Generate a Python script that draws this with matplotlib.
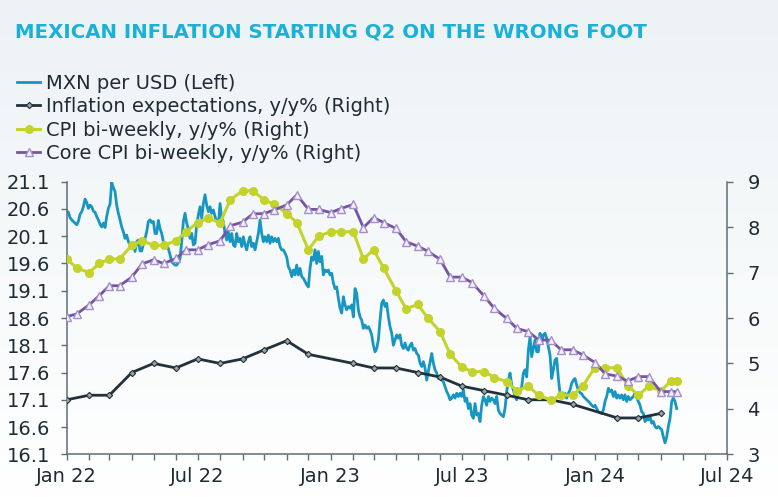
import numpy as np
import pandas as pd
import matplotlib
matplotlib.use('Agg')
import matplotlib.pyplot as plt
import matplotlib.dates as mdates
from matplotlib.colors import LinearSegmentedColormap

# ---- data ----
title = 'MEXICAN INFLATION STARTING Q2 ON THE WRONG FOOT'

# MXN per USD, sampled roughly every 2.3 days from Jan 2022
mxn_start = '2022-01-01'
mxn_step_days = 2.303
mxn = [
    20.56, 20.54, 20.44, 20.40, 20.37, 20.34, 20.31, 20.37, 20.50, 20.55,
    20.64, 20.78, 20.72, 20.61, 20.67, 20.64, 20.56, 20.54, 20.46, 20.40,
    20.32, 20.27, 20.34, 20.26, 20.46, 20.61, 20.69, 21.09, 20.99, 20.92,
    20.67, 20.52, 20.40, 20.27, 20.18, 20.06, 20.12, 20.00, 19.94, 19.87,
    19.97, 19.82, 20.00, 20.03, 19.83, 19.83, 19.95, 20.06, 20.18, 20.37,
    20.40, 20.35, 20.37, 20.15, 20.15, 20.39, 20.24, 20.15, 20.00, 19.95,
    19.97, 19.87, 19.76, 19.63, 19.60, 19.57, 19.57, 19.62, 19.69, 20.00,
    20.37, 20.52, 20.34, 20.23,
    20.06, 20.15, 19.94, 19.97, 20.31, 20.49, 20.64, 20.43, 20.70, 20.86,
    20.67, 20.55, 20.64, 20.52, 20.58, 20.46, 20.37, 20.31, 20.70, 20.43,
    20.37, 20.15, 20.03, 20.18, 20.00, 20.15, 19.94, 19.91, 20.15, 20.00,
    20.06, 19.91, 20.09, 19.94, 19.85, 20.00, 20.09, 19.91, 19.97, 19.85,
    20.00, 20.15, 20.40, 20.15, 20.00, 20.09, 20.00, 20.12, 19.97, 20.09,
    20.00, 20.06, 20.00, 20.06, 19.91, 19.85, 19.85, 19.79, 19.72, 19.54,
    19.48, 19.36, 19.48, 19.39, 19.57, 19.39, 19.51, 19.36, 19.33, 19.27,
    19.21, 19.17, 19.51, 19.72, 19.66, 19.85, 19.60, 19.82, 19.63,
    19.73, 19.39, 19.48, 19.45, 19.48, 19.39, 19.42, 19.24, 19.14, 19.17,
    18.96, 18.78, 18.69, 18.99, 18.84, 18.75, 18.81, 18.78, 18.84, 18.62,
    19.14, 19.05, 18.75, 18.62, 18.56, 18.41, 18.47, 18.41, 18.44, 18.38,
    18.29, 18.10, 17.98, 18.04, 18.20, 18.56, 18.87, 18.93, 18.81, 18.87,
    18.62, 18.44, 18.32, 18.10, 18.20, 18.29, 18.23, 18.29, 18.10, 18.04,
    18.14, 18.04, 18.01, 18.10, 18.14, 18.01, 18.04, 17.95, 17.92, 17.77,
    17.71, 17.80, 17.68, 17.46, 17.62, 17.77, 17.95, 17.77, 17.65, 17.59,
    17.49, 17.52, 17.46, 17.43, 17.34, 17.25, 17.19, 17.10,
    17.13, 17.19, 17.13, 17.22, 17.16, 17.22, 17.16, 17.28, 17.07, 17.13,
    16.94, 17.03, 16.82, 16.76, 17.03, 16.82, 16.85, 16.70, 17.00, 17.16,
    17.10, 17.00, 17.16, 17.07, 17.13, 17.10, 17.03, 17.16, 16.91, 16.85,
    16.82, 16.79, 16.94, 17.25, 17.46, 17.59, 17.37, 17.28, 17.16, 17.10,
    17.28, 17.22, 17.34, 17.59, 17.65, 17.52, 18.01, 18.26, 17.89, 18.04,
    18.20, 17.98, 17.98, 18.32, 18.14, 18.29, 18.32, 18.23, 18.07, 17.92,
    17.49, 17.65, 17.83, 17.86, 17.49, 17.22, 17.19, 17.16, 17.22, 17.13,
    17.22, 17.28, 17.40, 17.46, 17.49,
    17.37, 17.28, 17.23, 17.21, 17.16, 17.13, 17.10, 17.07, 17.04, 17.00,
    16.97, 17.00, 16.94, 16.88, 16.86, 16.85, 16.91, 17.07, 17.16, 17.31,
    17.25, 17.28, 17.16, 17.25, 17.13, 17.19, 17.13, 17.19, 17.10, 17.19,
    17.07, 17.16, 17.10, 17.13, 17.16, 17.22, 17.13, 17.07, 17.00, 16.88,
    16.85, 16.70, 16.76, 16.73, 16.79, 16.67, 16.70, 16.61, 16.58, 16.61,
    16.58, 16.55, 16.42, 16.31, 16.42, 16.61, 16.76, 17.07, 17.13, 17.07,
    16.94,
]

# inflation expectations, monthly (no January prints shown for 2023 / 2024)
infl_dates = ['2022-01-01', '2022-02-01', '2022-03-01', '2022-04-01', '2022-05-01', '2022-06-01',
              '2022-07-01', '2022-08-01', '2022-09-01', '2022-10-01', '2022-11-01', '2022-12-01',
              '2023-02-01', '2023-03-01', '2023-04-01', '2023-05-01', '2023-06-01', '2023-07-01',
              '2023-08-01', '2023-09-01', '2023-10-01', '2023-11-01', '2023-12-01',
              '2024-02-01', '2024-03-01', '2024-04-01']
infl_exp = [4.2, 4.3, 4.3, 4.8, 5.0, 4.9, 5.1, 5.0, 5.1, 5.3, 5.5, 5.2,
            5.0, 4.9, 4.9, 4.8, 4.7, 4.5, 4.4, 4.3, 4.2, 4.2, 4.1,
            3.8, 3.8, 3.9]

# bi-weekly CPI (1st / 15th of month) plus a late-April print
cpi_last_date = '2024-04-23'
cpi = [7.3, 7.1, 7.0, 7.2, 7.3, 7.3, 7.6, 7.7, 7.6, 7.6,
       7.7, 7.9, 8.1, 8.2, 8.1, 8.6, 8.8, 8.8, 8.6, 8.5,
       8.3, 8.1, 7.5, 7.8, 7.9, 7.9, 7.9, 7.3, 7.5, 7.1,
       6.6, 6.2, 6.3, 6.0, 5.7, 5.2, 4.92, 4.82, 4.82, 4.69,
       4.6, 4.4, 4.5, 4.3, 4.19, 4.3, 4.3, 4.5, 4.91, 4.91,
       4.9, 4.51, 4.3, 4.5, 4.4, 4.61, 4.61]
core_cpi = [6.03, 6.09, 6.29, 6.49, 6.71, 6.71, 6.90, 7.19, 7.28, 7.20,
            7.31, 7.50, 7.50, 7.61, 7.70, 8.03, 8.11, 8.29, 8.30, 8.38,
            8.49, 8.71, 8.39, 8.39, 8.32, 8.41, 8.50, 7.99, 8.21, 8.10,
            7.97, 7.68, 7.58, 7.47, 7.29, 6.90, 6.90, 6.78, 6.48, 6.21,
            5.99, 5.77, 5.70, 5.52, 5.51, 5.30, 5.30, 5.19, 5.02, 4.77,
            4.72, 4.61, 4.71, 4.71, 4.38, 4.38, 4.38]

left_ticks = [16.1, 16.6, 17.1, 17.6, 18.1, 18.6, 19.1, 19.6, 20.1, 20.6, 21.1]
right_ticks = [3, 4, 5, 6, 7, 8, 9]

# ---- build date indexes ----
mxn_dates = pd.Timestamp(mxn_start) + pd.to_timedelta(np.arange(len(mxn)) * mxn_step_days, unit='D')
infl_idx = pd.to_datetime(infl_dates)
cpi_idx = pd.date_range('2022-01-01', periods=len(cpi) - 1, freq='SMS').append(pd.DatetimeIndex([cpi_last_date]))

# ---- colours ----
c_mxn = '#1796c1'
c_exp = '#22313a'
c_cpi = '#c3d32a'
c_core = '#7554a3'
c_text = '#1f2c33'
c_axis = '#5f6e75'

fig = plt.figure(figsize=(7.78, 4.97), dpi=100)

# soft vertical gradient background
bg = fig.add_axes([0, 0, 1, 1], zorder=-10)
cmap = LinearSegmentedColormap.from_list('bg', ['#edf2f5', '#f6f9fa', '#ffffff'])
bg.imshow(np.linspace(0, 1, 256).reshape(-1, 1), cmap=cmap, aspect='auto', extent=[0, 1, 0, 1])
bg.axis('off')

ax = fig.add_axes([66.7 / 778, 1 - 454.3 / 497, 660 / 778, 272.6 / 497])
ax.set_facecolor('none')
ax2 = ax.twinx()

l1, = ax.plot(mxn_dates, mxn, color=c_mxn, lw=2.0, solid_joinstyle='round')
l2, = ax2.plot(infl_idx, infl_exp, color=c_exp, lw=2.0, marker='D', ms=3.2,
               mfc='#9aa4a8', mec=c_exp, mew=0.8)
l3, = ax2.plot(cpi_idx, cpi, color=c_cpi, lw=2.2, marker='o', ms=5.5, mec=c_cpi)
l4, = ax2.plot(cpi_idx, core_cpi, color=c_core, lw=2.0, marker='^', ms=6,
               mfc='#f4f0fa', mec='#a48fcb', mew=1.0)

ax.set_xlim(pd.Timestamp('2022-01-01'), pd.Timestamp('2024-07-01'))
ax.set_ylim(16.1, 21.1)
ax2.set_ylim(3, 9)
ax.set_yticks(left_ticks)
ax.set_yticklabels([f'{v:.1f}' for v in left_ticks])
ax2.set_yticks(right_ticks)

ax.xaxis.set_major_locator(mdates.MonthLocator(bymonth=[1, 7]))
ax.xaxis.set_minor_locator(mdates.MonthLocator())
ax.xaxis.set_major_formatter(mdates.DateFormatter('%b %y'))

for a in (ax, ax2):
    a.spines['top'].set_visible(False)
    for s in a.spines.values():
        s.set_color(c_axis)
        s.set_linewidth(1.1)
ax.spines['right'].set_visible(False)
ax2.spines['left'].set_visible(False)
ax2.spines['bottom'].set_visible(False)

ax.tick_params(axis='y', direction='out', length=4, width=1, color=c_axis,
               labelsize=14, labelcolor=c_text, pad=8)
ax2.tick_params(axis='y', direction='out', length=4, width=1, color=c_axis,
                labelsize=14, labelcolor=c_text, pad=11)
ax.tick_params(axis='x', which='both', direction='out', length=4, width=1, color=c_axis,
               labelsize=14, labelcolor=c_text, pad=5)

fig.text(15 / 778, 1 - 37 / 497, title, fontsize=14.2, fontweight='bold',
         color='#1ab0d8', va='baseline')

fig.legend(handles=[l1, l2, l3, l4],
           labels=['MXN per USD (Left)', 'Inflation expectations, y/y% (Right)',
                   'CPI bi-weekly, y/y% (Right)', 'Core CPI bi-weekly, y/y% (Right)'],
           loc='upper left', bbox_to_anchor=(17 / 778, 1 - 74 / 497), frameon=False,
           fontsize=14, handlelength=1.2, handletextpad=0.28, labelspacing=0.22,
           borderaxespad=0, borderpad=0, labelcolor=c_text)

fig.savefig('out.png', dpi=100)
